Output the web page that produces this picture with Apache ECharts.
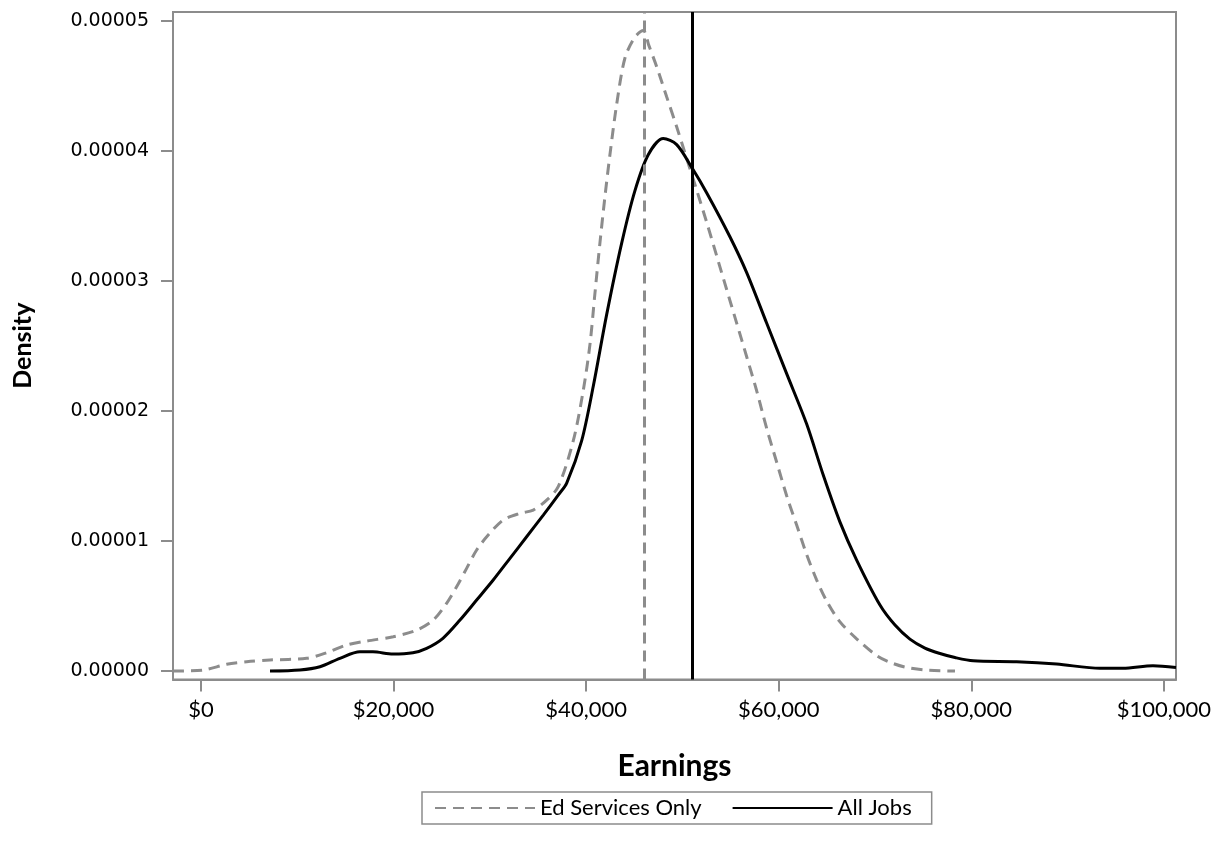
<!DOCTYPE html>
<html>
<head>
<meta charset="utf-8">
<script src="https://cdn.jsdelivr.net/npm/echarts@6/dist/echarts.min.js"></script>
<style>html,body{margin:0;padding:0;background:#fff;}#chart{width:1222px;height:853px;}</style>
</head>
<body>
<div id="chart"></div>
<script>
// Ed Services Only density curve
var edEarnings = [-2900, 240, 2670, 4750, 7170, 10980, 13060, 15130, 17210, 19970,
  22400, 24120, 25510, 26550, 27590, 28630, 29830, 31390, 33130, 34510,
  35900, 37100, 38660, 39700, 40400, 40910, 41430, 41950, 42470, 43170,
  44030, 45070, 45940, 46500, 47330, 48360, 49400, 50260, 51480, 52510,
  53550, 54590, 55630, 56670, 57700, 58740, 59780, 60820, 61860, 62900,
  63930, 64970, 66360, 68090, 70170, 71500, 73100, 75200, 78300];
var edDensity = [0, 0.08e-6, 0.52e-6, 0.72e-6, 0.85e-6, 0.98e-6, 1.41e-6, 2.00e-6, 2.31e-6, 2.64e-6,
  3.15e-6, 3.92e-6, 5.21e-6, 6.48e-6, 7.90e-6, 9.31e-6, 10.46e-6, 11.62e-6, 12.13e-6, 12.38e-6,
  13.15e-6, 14.18e-6, 17.7e-6, 21.58e-6, 25.15e-6, 29.03e-6, 32.92e-6, 36.48e-6, 39.72e-6, 43.6e-6,
  47.16e-6, 48.78e-6, 49.27e-6, 48.15e-6, 46.48e-6, 44.18e-6, 41.87e-6, 39.85e-6, 37.0e-6, 34.54e-6,
  31.95e-6, 29.35e-6, 26.77e-6, 24.18e-6, 21.58e-6, 18.68e-6, 16.08e-6, 13.49e-6, 11.23e-6, 8.96e-6,
  7.02e-6, 5.4e-6, 3.78e-6, 2.48e-6, 1.19e-6, 0.69e-6, 0.31e-6, 0.08e-6, 0];

// All Jobs density curve
var allEarnings = [7170, 10280, 12360, 14430, 16510, 17860, 19940, 22010, 23440, 25130,
  26900, 28630, 30350, 32090, 33820, 35550, 37100, 37980, 39530, 40740,
  42130, 43690, 45070, 46450, 48010, 49400, 50940, 52510, 54930, 56670,
  58740, 60820, 62900, 64620, 66360, 68090, 70510, 72070, 73620, 75180,
  76740, 78300, 80200, 84700, 88860, 93350, 95740, 98860, 101250];
var allDensity = [0, 0.08e-6, 0.33e-6, 0.98e-6, 1.48e-6, 1.48e-6, 1.31e-6, 1.41e-6, 1.75e-6, 2.52e-6,
  3.92e-6, 5.46e-6, 7.0e-6, 8.67e-6, 10.33e-6, 12.0e-6, 13.54e-6, 14.46e-6, 17.7e-6, 21.91e-6,
  27.42e-6, 32.92e-6, 36.96e-6, 39.72e-6, 40.96e-6, 40.5e-6, 38.77e-6, 36.8e-6, 33.41e-6, 30.65e-6,
  26.77e-6, 22.88e-6, 19.0e-6, 15.08e-6, 11.46e-6, 8.54e-6, 5.08e-6, 3.54e-6, 2.46e-6, 1.77e-6,
  1.35e-6, 1.04e-6, 0.79e-6, 0.72e-6, 0.54e-6, 0.21e-6, 0.21e-6, 0.41e-6, 0.28e-6];

// Reference lines (medians)
var edMedian = 46000;
var allMedian = 51000;

// Tick values
var xTickValues = [0, 20000, 40000, 60000, 80000, 100000];
var yTickValues = [0, 0.00001, 0.00002, 0.00003, 0.00004, 0.00005];

var seriesNames = ['Ed Services Only', 'All Jobs'];

function zip(xs, ys) { return xs.map(function (x, i) { return [x, ys[i]]; }); }

var GRAY = '#8c8c8c';
var chart = echarts.init(document.getElementById('chart'));
chart.setOption({
  animation: false,
  backgroundColor: '#fff',
  grid: { left: 173, right: 46, top: 12, bottom: 173.5, show: true, borderColor: GRAY, borderWidth: 2, backgroundColor: 'transparent' },
  legend: {
    left: 422, top: 792,
    data: seriesNames,
    borderColor: GRAY, borderWidth: 1.5,
    padding: [5, 20, 5, 12],
    itemWidth: 100, itemHeight: 14, itemGap: 30,
    itemStyle: { opacity: 0 },
    textStyle: { fontFamily: 'Lato', fontSize: 22, color: '#000' }
  },
  xAxis: {
    type: 'value', min: -2900, max: 101250,
    name: 'Earnings', nameLocation: 'middle', nameGap: 72,
    nameTextStyle: { fontFamily: 'Lato', fontWeight: 'bold', fontSize: 30, color: '#000' },
    axisLine: { show: true, onZero: false, lineStyle: { color: GRAY, width: 2 } },
    axisTick: { show: true, length: 12, customValues: xTickValues, lineStyle: { color: GRAY, width: 2 } },
    axisLabel: {
      customValues: xTickValues, margin: 19,
      fontFamily: 'Lato', fontSize: 22, color: '#000',
      formatter: function (v) { return '$' + Number(v).toLocaleString('en-US'); }
    },
    splitLine: { show: false }
  },
  yAxis: {
    type: 'value', min: -0.00000065, max: 0.0000507,
    name: 'Density', nameLocation: 'middle', nameGap: 138, nameRotate: 90,
    nameTextStyle: { fontFamily: 'Lato', fontWeight: 'bold', fontSize: 25, color: '#000' },
    axisLine: { show: true, onZero: false, lineStyle: { color: GRAY, width: 2 } },
    axisTick: { show: true, length: 12, customValues: yTickValues, lineStyle: { color: GRAY, width: 2 } },
    axisLabel: {
      customValues: yTickValues, margin: 24,
      fontFamily: 'DejaVu Sans', fontSize: 19, color: '#000',
      formatter: function (v) { return Number(v).toFixed(5); }
    },
    splitLine: { show: false }
  },
  series: [
    {
      name: seriesNames[0], type: 'line', data: zip(edEarnings, edDensity),
      symbol: 'none', smooth: 0.3, z: 3,
      lineStyle: { color: GRAY, width: 3, type: [11, 7] },
      itemStyle: { color: GRAY },
      markLine: {
        silent: true, symbol: 'none', label: { show: false },
        lineStyle: { color: GRAY, width: 3, type: [11, 7] },
        data: [{ xAxis: edMedian }]
      }
    },
    {
      name: seriesNames[1], type: 'line', data: zip(allEarnings, allDensity),
      symbol: 'none', smooth: 0.3, z: 4,
      lineStyle: { color: '#000', width: 3, type: 'solid' },
      itemStyle: { color: '#000' },
      markLine: {
        silent: true, symbol: 'none', label: { show: false },
        lineStyle: { color: '#000', width: 3, type: 'solid' },
        data: [{ xAxis: allMedian }]
      }
    }
  ]
});
</script>
</body>
</html>
